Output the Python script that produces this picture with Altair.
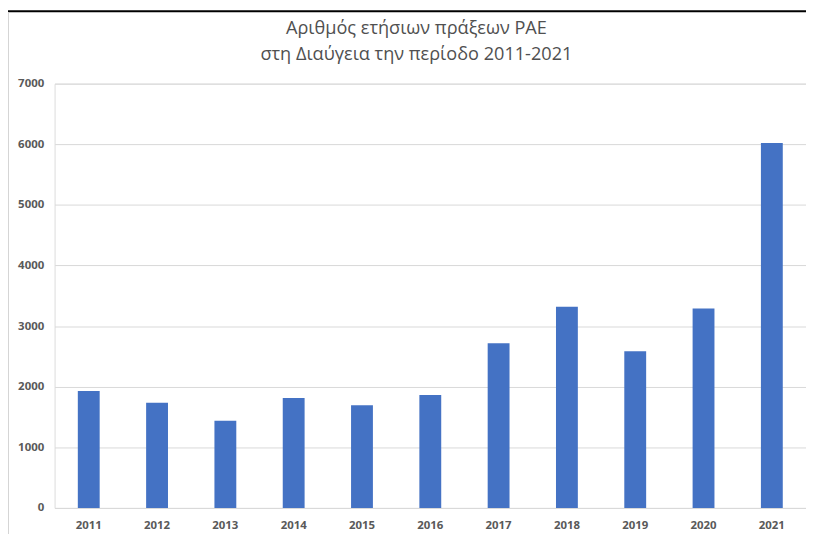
import altair as alt
import pandas as pd

years = ["2011", "2012", "2013", "2014", "2015", "2016", "2017", "2018", "2019", "2020", "2021"]
acts = [1930, 1735, 1440, 1815, 1695, 1865, 2715, 3320, 2585, 3290, 6020]
y_ticks = [0, 1000, 2000, 3000, 4000, 5000, 6000, 7000]
title_lines = ["Αριθμός ετήσιων πράξεων ΡΑΕ", "στη Διαύγεια την περίοδο 2011-2021"]

df = pd.DataFrame({"year": years, "acts": acts})

FONT = "Open Sans"
GREY = "#595959"

bars = alt.Chart(df).mark_bar(color="#4472C4").encode(
    x=alt.X("year:N", sort=years, title=None,
            scale=alt.Scale(paddingInner=0.68, paddingOuter=0.34),
            axis=alt.Axis(labelAngle=0, labelFont=FONT, labelFontSize=11.5, labelFontWeight="bold",
                          labelColor=GREY, ticks=False, domain=False, labelPadding=12, grid=False)),
    y=alt.Y("acts:Q", title=None,
            scale=alt.Scale(domain=[0, 7000], nice=False),
            axis=alt.Axis(values=y_ticks, format="d", labelFont=FONT, labelFontSize=11.5,
                          labelFontWeight="bold", labelColor=GREY, ticks=False, domain=False,
                          labelPadding=11, grid=True, gridColor="#d9d9d9", gridWidth=1)),
)

frame_df = pd.DataFrame({"a": [0]})
top_line = alt.Chart(frame_df).mark_rule(color="black", strokeWidth=2).encode(
    x=alt.value(-47), x2=alt.value(760), y=alt.value(-73)
)
left_line = alt.Chart(frame_df).mark_rule(color="#d4d4d4", strokeWidth=1).encode(
    x=alt.value(-46.5), y=alt.value(-72), y2=alt.value(455)
)

chart = alt.layer(bars, top_line, left_line).properties(
    width=758, height=428,
    autosize=alt.AutoSizeParams(type="none"),
    padding={"left": 47, "top": 74, "right": 0, "bottom": 24},
    title=alt.TitleParams(text=title_lines, font=FONT, fontSize=18.3, fontWeight="normal",
                          color="#505050", anchor="middle", dx=-14, dy=76, offset=22, lineHeight=26),
).configure_view(stroke=None).configure(background="white")

chart.save("out.html", embed_options={"renderer": "svg", "actions": False})
